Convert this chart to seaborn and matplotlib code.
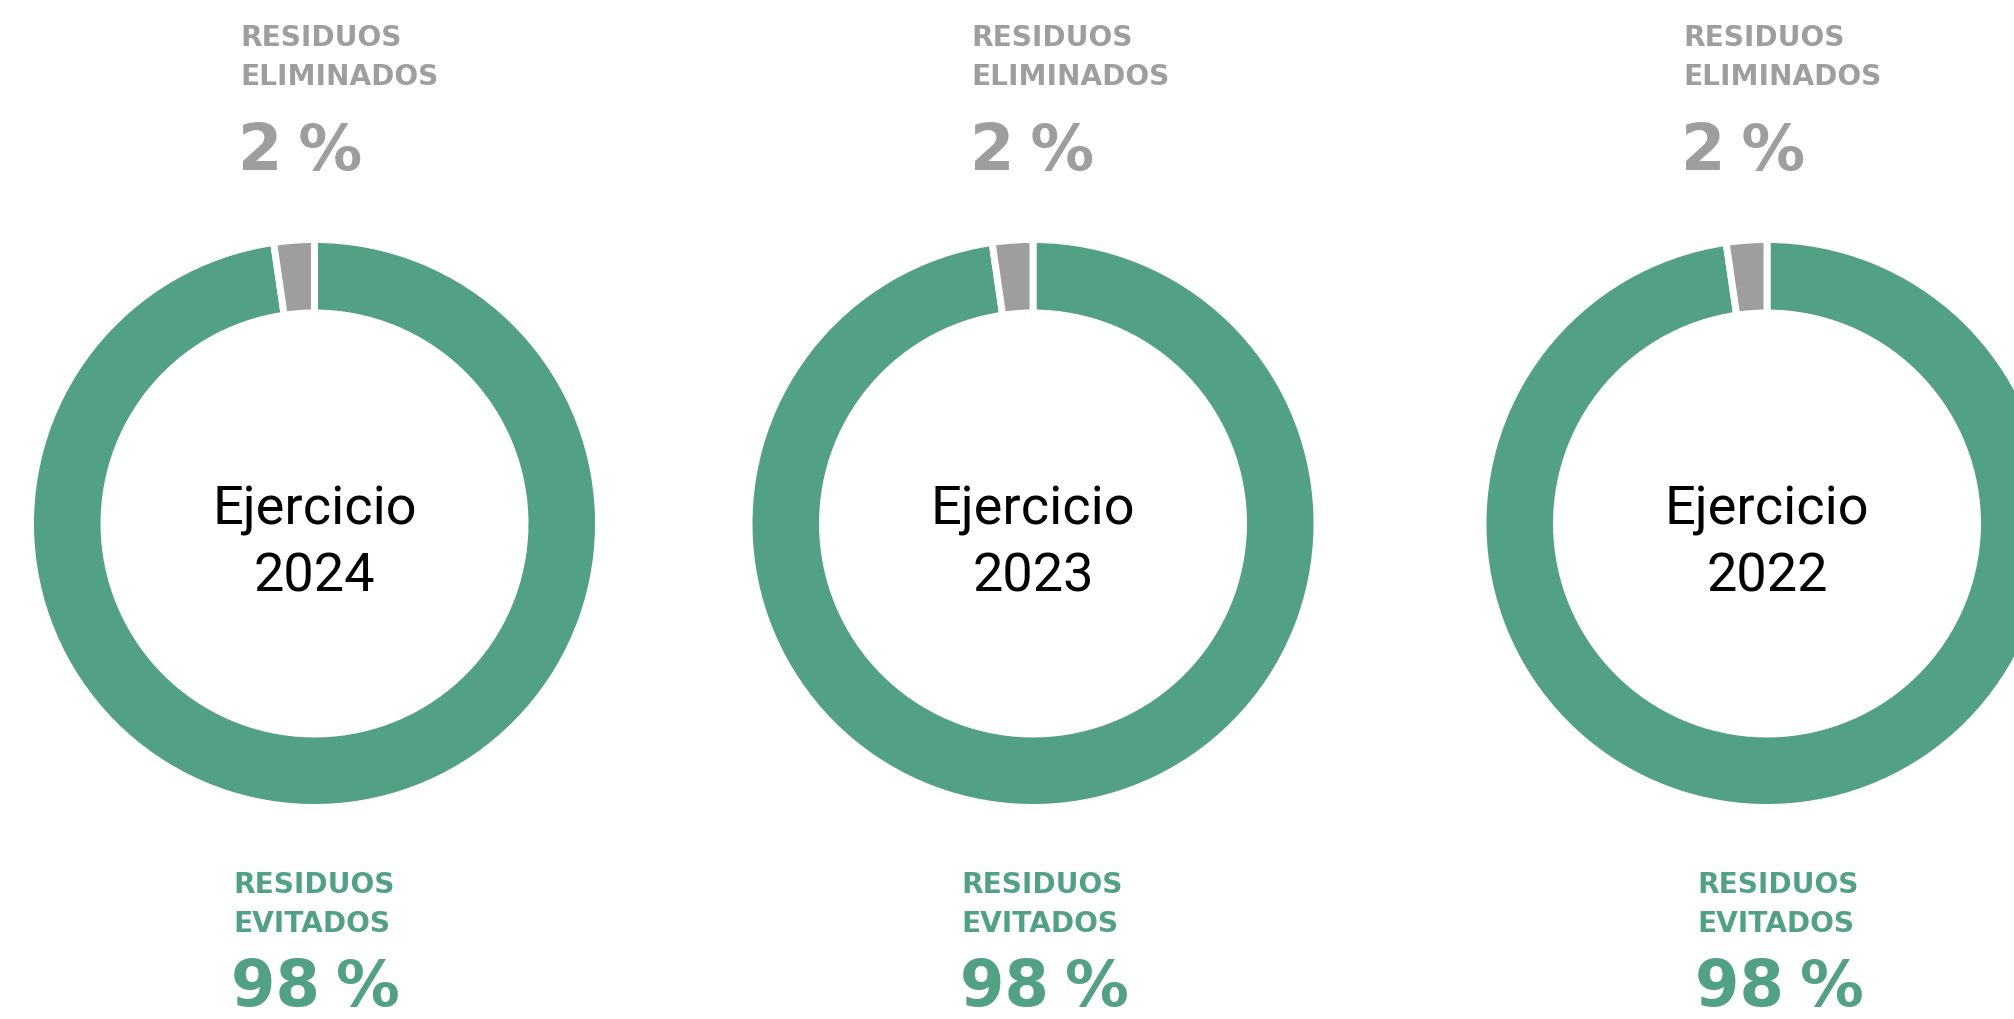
import matplotlib.pyplot as plt
import seaborn as sns

# ==========================
# Data
# ==========================
years = ["2024", "2023", "2022"]
evitados = [97.7, 97.7, 97.7]      # share of avoided waste (%)
eliminados = [2.3, 2.3, 2.3]       # share of eliminated waste (%)
evitados_text = ["98\u2005%", "98\u2005%", "98\u2005%"]
eliminados_text = ["2\u2005%", "2\u2005%", "2\u2005%"]

# ==========================
# Style / layout (pixel units, y from top)
# ==========================
GREEN = "#52a185"
GREY = "#9e9e9e"
W, H = 2014, 1020

centers_x = [314.5, 1033, 1767]
center_y = 524.5
top_label_x = [240, 971.5, 1683]
bottom_label_x = [233, 961.5, 1697]

sns.set_theme(style="white")
plt.rcParams["font.family"] = ["DejaVu Sans"]

fig = plt.figure(figsize=(W / 100, H / 100), dpi=100)
ax = fig.add_axes([0, 0, 1, 1])


def y(px):
    return H - px


for i, year in enumerate(years):
    cx = centers_x[i]
    ax.pie(
        [evitados[i], eliminados[i]],
        colors=[GREEN, GREY],
        startangle=90,
        counterclock=False,
        center=(cx, y(center_y)),
        radius=284,
        wedgeprops=dict(width=73.5, edgecolor="white", linewidth=5.0),
    )

    # center text
    ax.text(cx, y(524.5), "Ejercicio", ha="center", va="baseline",
            fontsize=39, family="Roboto", color="#000000")
    ax.text(cx, y(592), year, ha="center", va="baseline",
            fontsize=39, family="Roboto", color="#000000")

    # top labels
    tx = top_label_x[i]
    ax.text(tx, y(46), "RESIDUOS", ha="left", va="baseline",
            fontsize=20.2, fontweight="bold", color=GREY)
    ax.text(tx, y(85), "ELIMINADOS", ha="left", va="baseline",
            fontsize=20.2, fontweight="bold", color=GREY)
    ax.text(tx - 2, y(170), eliminados_text[i], ha="left", va="baseline",
            fontsize=46, fontweight="bold", color=GREY)

    # bottom labels
    bx = bottom_label_x[i]
    ax.text(bx, y(893), "RESIDUOS", ha="left", va="baseline",
            fontsize=20.2, fontweight="bold", color=GREEN)
    ax.text(bx, y(932), "EVITADOS", ha="left", va="baseline",
            fontsize=20.2, fontweight="bold", color=GREEN)
    ax.text(bx - 2, y(1006), evitados_text[i], ha="left", va="baseline",
            fontsize=46, fontweight="bold", color=GREEN)

ax.set_xlim(0, W)
ax.set_ylim(0, H)
ax.set_aspect("equal")
ax.set_axis_off()

fig.savefig("out.png", dpi=100)
plt.close(fig)
